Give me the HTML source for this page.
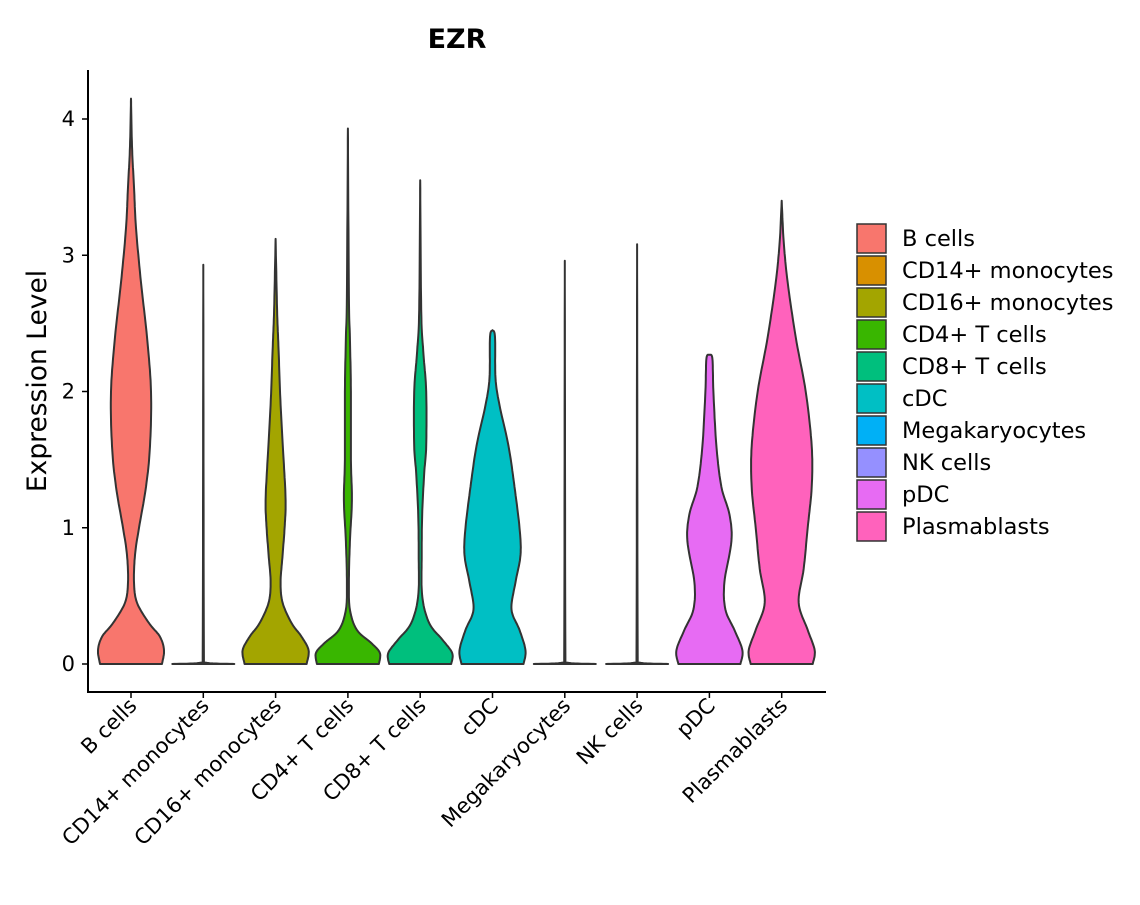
<!DOCTYPE html>
<html><head><meta charset="utf-8">
<style>
body{margin:0;background:#fff;font-family:"Liberation Sans","DejaVu Sans",sans-serif;}
svg text{font-family:"DejaVu Sans","Liberation Sans",sans-serif;fill:#000;}
</style></head>
<body>
<svg id="chart" width="1140" height="900" viewBox="0 0 1140 900" xmlns="http://www.w3.org/2000/svg">
<text x="457" y="48" text-anchor="middle" font-size="27" font-weight="bold">EZR</text>
<text transform="translate(46,381) rotate(-90)" text-anchor="middle" font-size="26.5">Expression Level</text>
<g id="plot"></g>
<g id="legend"></g>
</svg>
<script>
const categories=["B cells","CD14+ monocytes","CD16+ monocytes","CD4+ T cells","CD8+ T cells","cDC","Megakaryocytes","NK cells","pDC","Plasmablasts"];
const colors=["#F8766D","#D89000","#A3A500","#39B600","#00BF7D","#00BFC4","#00B0F6","#9590FF","#E76BF3","#FF62BC"];
const yTicks=[0,1,2,3,4];
// density profiles: [expression level, relative width 0..33]
const profBcells=[[0,31],[0.1,33],[0.2,29],[0.3,18],[0.45,6],[0.6,3],[0.8,4],[1.0,8],[1.3,15],[1.6,19],[2.0,20],[2.4,16],[2.8,10],[3.2,5],[3.5,3],[3.8,1],[4.15,0]];
const profCD14=[[0,31],[0.01,2],[0.05,0.6],[2.93,0]];
const profCD16=[[0,31],[0.1,33],[0.2,26],[0.3,16],[0.45,7],[0.6,5],[0.8,7],[1.0,9],[1.2,10],[1.5,8],[1.9,5],[2.3,3],[2.6,1.5],[3.12,0]];
const profCD4=[[0,31],[0.08,32],[0.15,24],[0.25,9],[0.4,2],[0.6,1],[0.9,2],[1.2,4],[1.5,3],[2.0,3],[2.4,2],[2.7,1],[3.93,0]];
const profCD8=[[0,31],[0.08,32],[0.18,22],[0.3,9],[0.5,2],[0.8,1.5],[1.1,2],[1.4,4],[1.6,6],[2.0,6],[2.3,3],[2.6,1],[3.55,0]];
const profcDC=[[0,31],[0.1,33],[0.25,27],[0.4,19],[0.6,23],[0.8,28],[1.0,27],[1.3,22],[1.6,16],[1.9,7],[2.1,3],[2.4,2.5],[2.45,0]];
const profMega=[[0,31],[0.01,2],[0.05,0.6],[2.96,0]];
const profNK=[[0,31],[0.01,2],[0.05,0.6],[3.08,0]];
const profpDC=[[0,31],[0.1,33],[0.25,25],[0.4,16],[0.6,15],[0.9,22],[1.1,20],[1.3,12],[1.6,7],[2.0,4],[2.24,3],[2.27,0]];
const profPlasma=[[0,31],[0.1,33],[0.25,26],[0.45,17],[0.7,22],[1.0,26],[1.3,30],[1.6,30],[2.0,24],[2.4,14],[2.8,6],[3.1,2],[3.4,0]];
const profiles=[profBcells,profCD14,profCD16,profCD4,profCD8,profcDC,profMega,profNK,profpDC,profPlasma];

const NS="http://www.w3.org/2000/svg";
const X0=88,X1=826,Y0=70,Y1=692;
const yScale=v=>664-v*136.25;
const xScale=i=>X0+43+i*72.3;
const wScale=w=>w;
const plot=document.getElementById('plot');
function mk(tag,attrs,parent){const e=document.createElementNS(NS,tag);for(const k in attrs)e.setAttribute(k,attrs[k]);parent.appendChild(e);return e;}
function smoothPts(pts){
  const out=[];
  for(let i=0;i<pts.length-1;i++){
    const p0=pts[Math.max(0,i-1)],p1=pts[i],p2=pts[i+1],p3=pts[Math.min(pts.length-1,i+2)];
    for(let t=0;t<1;t+=0.1){
      const t2=t*t,t3=t2*t;
      const f=(a,b,c,d)=>0.5*((2*b)+(-a+c)*t+(2*a-5*b+4*c-d)*t2+(-a+3*b-3*c+d)*t3);
      out.push([Math.max(0,f(p0[0],p1[0],p2[0],p3[0])),Math.max(0,f(p0[1],p1[1],p2[1],p3[1]))]);
    }
  }
  out.push(pts[pts.length-1]);return out;
}
profiles.forEach((prof,i)=>{
  const cx=xScale(i);
  const s=smoothPts(prof);
  let right=s.map(p=>[cx+wScale(p[1]),yScale(p[0])]);
  let left=s.slice().reverse().map(p=>[cx-wScale(p[1]),yScale(p[0])]);
  const d="M"+right.concat(left).map(p=>p[0].toFixed(1)+","+p[1].toFixed(1)).join("L")+"Z";
  const v=mk('path',{d:d,fill:colors[i],stroke:"#333",'stroke-width':2,'stroke-linejoin':'round'},plot);
  
  
  const t=mk('line',{x1:cx,x2:cx,y1:Y1,y2:Y1+6,stroke:"#000",'stroke-width':1.5},plot);
  
  
  const lb=mk('text',{transform:`translate(${cx+7},${Y1+15}) rotate(-45)`,'text-anchor':'end','font-size':21},plot);
  lb.textContent=categories[i];
  
  
});
yTicks.forEach(v=>{
  const y=yScale(v);
  const t=mk('line',{x1:X0-6,x2:X0,y1:y,y2:y,stroke:"#000",'stroke-width':1.5},plot);
  
  
  const lb=mk('text',{x:X0-13,y:y+7,'text-anchor':'end','font-size':21},plot);
  lb.textContent=v;
  
  
});
const ax=mk('path',{d:`M${X0},${Y0}V${Y1}H${X1}`,fill:"none",stroke:"#000",'stroke-width':2},plot);


const leg=document.getElementById('legend');
categories.forEach((c,i)=>{
  const y=224+i*32;
  const r=mk('rect',{x:857,y:y,width:29,height:29,fill:colors[i],stroke:"#333",'stroke-width':1.5},leg);
  
  
  const t=mk('text',{x:902,y:y+22,'font-size':22.5},leg);
  t.textContent=c;
  
  
});
</script>
</body></html>
